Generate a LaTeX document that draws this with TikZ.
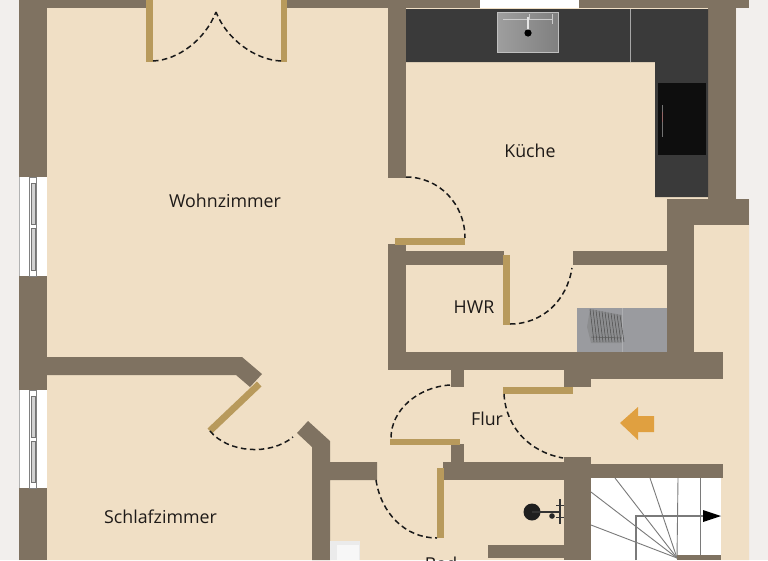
\documentclass[tikz,border=0pt]{standalone}
\usepackage{fontspec}
\setmainfont{Open Sans}
\definecolor{bgc}{HTML}{F2EFED}
\definecolor{floorc}{HTML}{F0DFC5}
\definecolor{wallc}{HTML}{7F7261}
\definecolor{doorc}{HTML}{B89A5C}
\definecolor{counterc}{HTML}{3A3A3A}
\definecolor{hobc}{HTML}{0E0E0E}
\definecolor{washc}{HTML}{9A9B9F}
\definecolor{arrowc}{HTML}{E0A040}
\definecolor{stairc}{HTML}{7A7A7A}
\definecolor{labelc}{HTML}{1E1A18}
\tikzset{
  wall/.style={fill=wallc,draw=none},
  leaf/.style={fill=doorc,draw=none},
  swing/.style={draw=black!90,line width=1.5pt,dash pattern=on 5.5pt off 3.5pt},
  room/.style={text=labelc,font=\fontsize{17.8}{20}\selectfont,inner sep=0pt,anchor=center},
  stairline/.style={draw=stairc,line width=0.9pt},
  winframe/.style={draw=black!50,line width=0.5pt,fill=white}
}
\begin{document}
\begin{tikzpicture}[x=1pt,y=-1pt]
\useasboundingbox (0,0) rectangle (768,560);
\clip (0,0) rectangle (768,560);
\fill[bgc] (0,0) rectangle (768,560);
% floor
\fill[floorc] (19,0) -- (736,0) -- (736,199) -- (749,199) -- (749,560) -- (19,560) -- cycle;
% outer walls
\fill[wall] (19,0) rectangle (47,177);
\fill[wall] (19,276) rectangle (47,390);
\fill[wall] (19,488) rectangle (47,560);
\fill[wall] (19,0) rectangle (146,8);
\fill[wall] (287,0) rectangle (480,8);
\fill[white] (480,0) rectangle (579,8);
\fill[wall] (579,0) rectangle (749,8);
\fill[wall] (708,0) rectangle (736,199);
\fill[wall] (667,199) rectangle (749,225);
% windows
\foreach \ya/\yb in {177/276,390/488}{
  \fill[white] (19,\ya) rectangle (47,\yb);
  \fill[black!30] (19,\ya) rectangle (20,\yb);
  \draw[winframe] (29.5,\ya) rectangle (36.5,\yb);
  \draw[draw=black!55,line width=0.5pt,fill=black!18] (31,{\ya+6}) rectangle (35,{(\ya+\yb)/2-2});
  \draw[draw=black!55,line width=0.5pt,fill=black!18] (31,{(\ya+\yb)/2+2}) rectangle (35,{\yb-6});
}
% interior walls
\fill[wall] (388,0) rectangle (406,178);
\fill[wall] (388,244) rectangle (406,370);
\fill[wall] (388,251) rectangle (504,265);
\fill[wall] (572.5,251) rectangle (694,265);
\fill[wall] (667,199) rectangle (694,352);
\fill[wall] (388,352) rectangle (723,370);
\fill[wall] (564,352) rectangle (723,379);
\fill[wall] (564,370) rectangle (591,387);
\fill[wall] (451,370) rectangle (464,387);
\fill[wall] (451,444) rectangle (464,462);
\fill[wall] (443,462) rectangle (591,480);
\fill[wall] (564,457) rectangle (591,560);
\fill[wall] (591,464) rectangle (723,478);
\fill[wall] (488,545) rectangle (564,558);
\fill[wall] (47,357) -- (242,357) -- (262,374) -- (250,387) -- (236,375) -- (47,375) -- cycle;
\fill[wall] (297,433) -- (308,421) -- (330,441) -- (330,462) -- (377,462) -- (377,480) -- (330,480) -- (330,560) -- (312,560) -- (312,447) -- cycle;
% counter
\fill[counterc] (406,9) -- (708,9) -- (708,197) -- (655,197) -- (655,62) -- (406,62) -- cycle;
\draw[black!35,line width=0.4pt] (630.5,9) -- (630.5,62);
\fill[hobc] (658,83) rectangle (706,155);
\draw[black!55,line width=0.4pt] (662,105) -- (662,137);
\fill[black!70!red!60] (661.5,112) rectangle (663,122);
% sink
\draw[left color=black!38,right color=black!50,draw=black!25,line width=0.7pt] (497.5,12) rectangle (558.5,52.5);
\draw[black!20,line width=0.5pt] (503,19) -- (553,19);
\draw[black!20,line width=0.8pt] (552,14) -- (552,24);
\draw[black!20,line width=0.8pt] (529,14) -- (529,20);
\draw[white!90!black,line width=1.6pt] (528,17) -- (528,31);
\fill[black] (528,33) circle (3.6);
% washer
\fill[washc] (577,308) rectangle (667,352);
\draw[washc!80!white,line width=0.4pt] (622,308) -- (622,352);
\fill[black!55,opacity=.35] (590,309) -- (622,315) -- (622,343) -- (591,343) -- (587,327) -- cycle;
\foreach \i in {0,...,10}{
  \draw[black!70,line width=0.5pt] ({590+3*\i},{309+0.6*\i}) -- ({594+3*\i},{342});
}
\draw[black!65,line width=0.5pt] (591,337) -- (622,338);
% stairs
\fill[white] (591,478) rectangle (721,560);
\foreach \xa/\ya in {615/478,650/478,678/478,591/492,591/525}{
  \draw[stairline] (677,558) -- (\xa,\ya);
}
\draw[stairline] (700,478) -- (700,556);
\fill[wall] (677,555) rectangle (721,560);
\draw[stairline,line width=1.1pt] (636,560) -- (636,516) -- (704,516);
\fill[black] (703,510) -- (721,516) -- (703,522) -- cycle;
% bath fixtures
\fill[black!88] (532,512) circle (8.5);
\draw[black!80,line width=1.1pt] (532,512) -- (560,512);
\draw[black!80,line width=1.4pt] (560,499) -- (560,524);
\fill[black!85] (552,516) circle (2.8);
\draw[black!80,line width=0.7pt] (556,505) -- (564,505) (556,517) -- (564,517);
\fill[black!8] (330,541) rectangle (360,560);
\fill[black!3] (337,545) rectangle (359,560);
% doors
\fill[leaf] (146,0) rectangle (153,62);
\fill[leaf] (281,0) rectangle (287,62);
\fill[leaf] (395,238) rectangle (465,244.5);
\fill[leaf] (503,255) rectangle (510,325);
\fill[leaf] (503,387) rectangle (573,394);
\fill[leaf] (390,439) rectangle (460,445);
\fill[leaf] (437,468) rectangle (444,538);
\fill[leaf] (257,381.5) -- (261.5,386.5) -- (212,433.5) -- (207.5,428.5) -- cycle;
% swings
\draw[swing] (153,61) .. controls (178,60) and (205,40) .. (216,12);
\draw[swing] (281,61) .. controls (256,60) and (227,40) .. (216,12);
\draw[swing] (406,177) .. controls (439,177) and (465,204) .. (465,238);
\draw[swing] (510,324) .. controls (543,324) and (567,300) .. (572,268);
\draw[swing] (504,394) .. controls (506,428) and (530,452) .. (563,458);
\draw[swing] (450,385) .. controls (418,387) and (391,410) .. (391,438);
\draw[swing] (376,480) .. controls (381,513) and (405,538) .. (437,538);
\draw[swing] (210,431) .. controls (228,453) and (270,456) .. (293,437);
% entrance arrow
\fill[arrowc] (620,423) -- (638,407) -- (638,416) -- (654,416) -- (654,432) -- (638,432) -- (638,440) -- cycle;
% labels
\node[room] (wohn) at (225,201) {Wohnzimmer};
\node[room] (kueche) at (530,151) {Küche};
\node[room] (hwr) at (474,307) {HWR};
\node[room] (flur) at (487,419) {Flur};
\node[room] (schlaf) at (160.5,517) {Schlafzimmer};
\node[room] (bad) at (441,564) {Bad};
\end{tikzpicture}
\end{document}
